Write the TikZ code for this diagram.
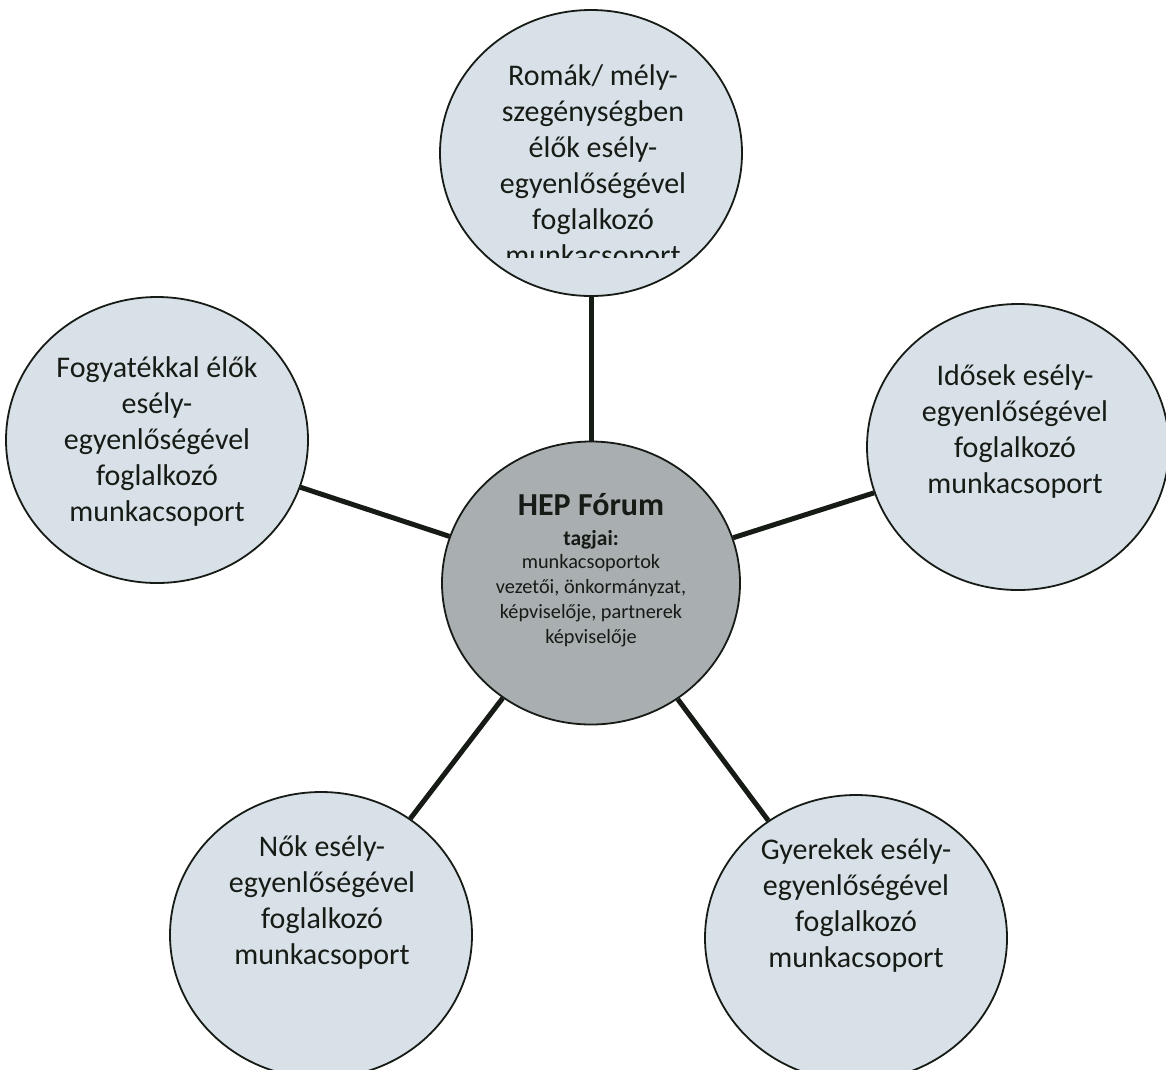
\documentclass[tikz,border=0pt]{standalone}
\usepackage{fontspec}
\setmainfont{Carlito}
\usetikzlibrary{shapes.geometric}
\definecolor{outerfill}{HTML}{D9E1E8}
\definecolor{centerfill}{HTML}{A9AEB1}
\definecolor{inkc}{HTML}{161B16}
\begin{document}
\begin{tikzpicture}[x=1pt,y=-1pt,
  bubble/.style={ellipse, draw=inkc, line width=1.8pt, fill=outerfill,
    minimum width=302pt, minimum height=286pt, inner sep=0pt},
  hub/.style={bubble, fill=centerfill, minimum width=298pt, minimum height=283pt},
  link/.style={draw=inkc, line width=5pt},
  lbl/.style={align=center, text=inkc, inner sep=0pt,
    font=\fontsize{30}{36}\selectfont},
  hubtitle/.style={text=inkc, inner sep=0pt, font=\fontsize{32}{38}\selectfont\bfseries},
  hubsub/.style={text=inkc, inner sep=0pt, font=\fontsize{21.5}{25}\selectfont\bfseries},
  hubtext/.style={align=center, text=inkc, inner sep=0pt, font=\fontsize{20.3}{25}\selectfont}]
\useasboundingbox (0,0) rectangle (1166,1069);
\fill[white] (0,0) rectangle (1166,1069);

% bubbles
\node[hub] (hep) at (591,583) {};
\node[bubble] (roma) at (591,153) {};
\node[bubble] (fogy) at (157,440) {};
\node[bubble] (idos) at (1018,447) {};
\node[bubble] (nok) at (321,935) {};
\node[bubble] (gyer) at (856,938) {};

% connectors
\draw[link] (roma) -- (hep);
\draw[link] (fogy) -- (hep);
\draw[link] (idos) -- (hep);
\draw[link] (nok) -- (hep);
\draw[link] (gyer) -- (hep);

% texts
\begin{scope}
  \clip (400,0) rectangle (800,257);
  \node[lbl] (romat) at (593,167) {Romák/ mély-\\szegénységben\\élők esély-\\egyenlőségével\\foglalkozó\\munkacsoport};
\end{scope}
\node[lbl] (fogyt) at (157,441) {Fogyatékkal élők\\esély-\\egyenlőségével\\foglalkozó\\munkacsoport};
\node[lbl] (idost) at (1015,431) {Idősek esély-\\egyenlőségével\\foglalkozó\\munkacsoport};
\node[lbl] (nokt) at (322,902) {Nők esély-\\egyenlőségével\\foglalkozó\\munkacsoport};
\node[lbl] (gyert) at (856,905) {Gyerekek esély-\\egyenlőségével\\foglalkozó\\munkacsoport};

\node[hubtitle] (hept) at (591,505) {HEP Fórum};
\node[hubsub] (hepsub) at (591,540) {tagjai:};
\node[hubtext] (hepmem) at (591,601) {munkacsoportok\\vezetői, önkormányzat,\\képviselője, partnerek\\képviselője};
\end{tikzpicture}
\end{document}
